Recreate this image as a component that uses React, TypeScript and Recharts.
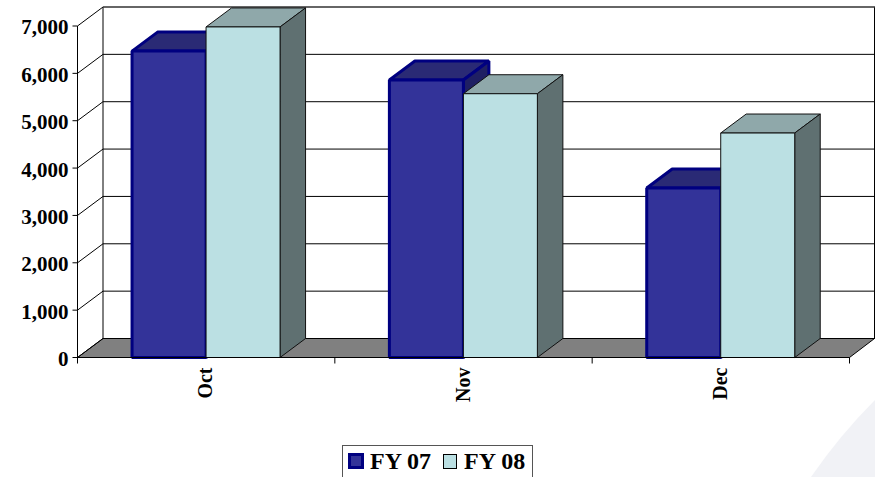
import React from "react";
import { BarChart, Bar, XAxis, YAxis, CartesianGrid, Legend } from "recharts";

const months = ["Oct", "Nov", "Dec"];
const fy07 = [6470, 5860, 3580];
const fy08 = [6980, 5570, 4740];
const yTicks = [0, 1000, 2000, 3000, 4000, 5000, 6000, 7000];

const data = months.map((month, i) => ({ month, fy07: fy07[i], fy08: fy08[i] }));

const FONT = "'Liberation Serif', 'Times New Roman', serif";
// 3D depth of the fake perspective
const DX = 25.5;
const DY = 19;
const PLOT_W = 772;

const Box = (props: any) => {
  const { x, y, width, height, fill, topFill, sideFill, stroke, strokeWidth, depthX, depthY } = props;
  const r = x + width;
  const b = y + height;
  return (
    <g stroke={stroke} strokeWidth={strokeWidth} strokeLinejoin="bevel">
      <polygon points={`${x},${y} ${x + depthX},${y - depthY} ${r + depthX},${y - depthY} ${r},${y}`} fill={topFill} />
      <polygon points={`${r},${y} ${r + depthX},${y - depthY} ${r + depthX},${b - depthY} ${r},${b}`} fill={sideFill} />
      <rect x={x} y={y} width={width} height={height} fill={fill} />
    </g>
  );
};

// one grid line: back wall line, the diagonal to the axis, floor and wall edges
const WallLine = (props: any) => {
  const { x1, x2, y1, index } = props;
  const backY = y1 - DY;
  const isFloor = y1 > 340;
  const isTop = y1 < 50;
  return (
    <g key={index} stroke="#000" strokeWidth={1} fill="none">
      {isFloor && (
        <polygon
          points={`${x1},${y1} ${x1 + DX},${backY} ${x2 + DX - 0.5},${backY} ${x2},${y1}`}
          fill="#808080"
        />
      )}
      {isFloor && <line x1={x1 + DX} y1={backY} x2={x1 + DX} y2={7} />}
      {isFloor && <line x1={x2 + DX - 0.5} y1={backY} x2={x2 + DX - 0.5} y2={7} />}
      <line x1={x1 + DX} y1={backY} x2={x2 + DX} y2={backY} stroke={isTop ? "#333" : "#000"} strokeWidth={isTop ? 1.5 : 1} />
      <line x1={x1} y1={y1} x2={x1 + DX} y2={backY} />
    </g>
  );
};

const MonthTick = (props: any) => {
  const { x, y, index, payload } = props;
  const step = PLOT_W / months.length;
  return (
    <g>
      <line x1={x - step / 2} y1={y - 8} x2={x - step / 2} y2={y - 2} stroke="#000" />
      {index === months.length - 1 && <line x1={x + step / 2} y1={y - 8} x2={x + step / 2} y2={y - 2} stroke="#000" />}
      <text
        x={x}
        y={y + 2}
        transform={`rotate(-90 ${x} ${y + 2})`}
        textAnchor="end"
        dy={6}
        fontFamily={FONT}
        fontWeight="bold"
        fontSize={20}
        fill="#000"
      >
        {payload.value}
      </text>
    </g>
  );
};

const LegendBox = () => (
  <div
    style={{
      boxSizing: "border-box",
      width: 191,
      height: 33,
      border: "1px solid #555",
      borderBottom: "none",
      background: "#fff",
      fontFamily: FONT,
      fontWeight: "bold",
      fontSize: 24,
      lineHeight: "26px",
      color: "#000",
      display: "flex",
      alignItems: "center",
      paddingLeft: 5,
      paddingBottom: 2,
      whiteSpace: "pre",
    }}
  >
    <span style={{ display: "inline-block", boxSizing: "border-box", width: 16, height: 16, background: "#333399", border: "3px solid #000080", marginRight: 6 }} />
    <span>FY 07</span>
    <span style={{ display: "inline-block", boxSizing: "border-box", width: 14, height: 15, background: "#BBE0E3", border: "1px solid #000", margin: "0 7px 0 12px" }} />
    <span>FY 08</span>
  </div>
);

export default function App() {
  return (
    <div style={{ position: "relative", width: 875, height: 477, overflow: "hidden", background: "#fff" }}>
      <style>{`html, body { margin: 0; padding: 0; }`}</style>
      <svg width={875} height={477} style={{ position: "absolute", left: 0, top: 0 }}>
        <path d="M811 477 Q840 435 875 400 L875 477 Z" fill="#f1f2f6" />
      </svg>
      <BarChart
        width={875}
        height={477}
        data={data}
        barCategoryGap="21.2%"
        barGap={0}
        margin={{ top: 26, right: 25.5, bottom: 19.5, left: 0 }}
        style={{ position: "absolute", left: 0, top: 0 }}
      >
        <CartesianGrid horizontal={WallLine as any} vertical={false} />
        <XAxis
          dataKey="month"
          height={100}
          axisLine={{ stroke: "#000" }}
          tickLine={false}
          tick={MonthTick as any}
          interval={0}
        />
        <YAxis
          width={77.5}
          domain={[0, 7000]}
          ticks={yTicks}
          tickFormatter={(v: number) => v.toLocaleString("en-US")}
          axisLine={{ stroke: "#000" }}
          tickLine={{ stroke: "#000" }}
          tickSize={5}
          tickMargin={4}
          tick={{ fontFamily: FONT, fontWeight: "bold", fontSize: 21, fill: "#000", dy: 1 }}
        />
        <Legend
          layout="horizontal"
          verticalAlign="middle"
          wrapperStyle={{ left: 342, top: 445, width: 191, height: 33 }}
          content={LegendBox as any}
        />
        <Bar
          dataKey="fy07"
          isAnimationActive={false}
          shape={(p: any) => (
            <Box {...p} fill="#333399" topFill="#2a2a75" sideFill="#1f1f63" stroke="#000080" strokeWidth={3} depthX={DX} depthY={DY} />
          )}
        />
        <Bar
          dataKey="fy08"
          isAnimationActive={false}
          shape={(p: any) => (
            <Box {...p} fill="#BBE0E3" topFill="#8FA8AA" sideFill="#5F7071" stroke="#111" strokeWidth={1} depthX={DX} depthY={DY} />
          )}
        />
      </BarChart>
    </div>
  );
}
